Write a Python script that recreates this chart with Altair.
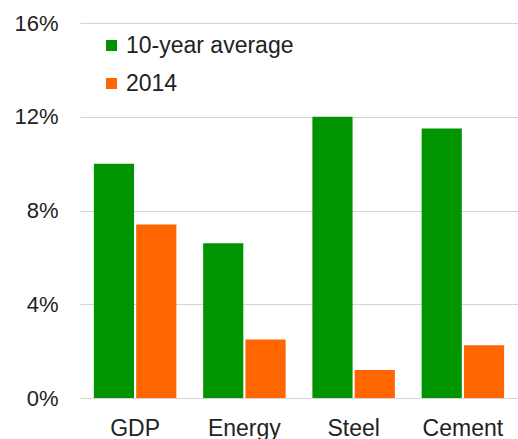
import altair as alt
import pandas as pd

categories = ["GDP", "Energy", "Steel", "Cement"]
avg_10yr = [10.0, 6.6, 12.0, 11.5]
y2014 = [7.4, 2.5, 1.2, 2.25]
series_names = ["10-year average", "2014"]
y_ticks = [0, 4, 8, 12, 16]

rows = []
for c, a, b in zip(categories, avg_10yr, y2014):
    rows.append({"category": c, "series": series_names[0], "value": a})
    rows.append({"category": c, "series": series_names[1], "value": b})
df = pd.DataFrame(rows)

FONT = "Liberation Sans"
TXT = "#222222"

chart = alt.Chart(df).mark_bar().encode(
    x=alt.X("category:N", sort=categories, title=None,
            scale=alt.Scale(paddingInner=0.245, paddingOuter=0.127),
            axis=alt.Axis(labelAngle=0, labelFontSize=23, labelColor=TXT,
                          labelFont=FONT, domain=False, ticks=False, labelPadding=19)),
    xOffset=alt.XOffset("series:N", sort=series_names,
                        scale=alt.Scale(paddingInner=0.05)),
    y=alt.Y("value:Q", title=None,
            scale=alt.Scale(domain=[0, 16], nice=False),
            axis=alt.Axis(values=y_ticks, labelExpr="datum.value + '%'",
                          labelFontSize=22, labelColor=TXT, labelFont=FONT,
                          domain=False, ticks=False, labelPadding=22,
                          gridColor="#d4d4d4", gridWidth=1)),
    color=alt.Color("series:N", sort=series_names,
                    scale=alt.Scale(domain=series_names, range=["#009400", "#ff6600"]),
                    legend=alt.Legend(title=None, orient="none", legendX=20, legendY=11,
                                      symbolType="square", symbolSize=121,
                                      symbolStrokeWidth=0, labelFontSize=23,
                                      labelFont=FONT, labelColor=TXT, labelLimit=400,
                                      labelOffset=3, rowPadding=14)),
).properties(
    width=438, height=375,
    autosize=alt.AutoSizeParams(type="none"),
    padding={"left": 80, "top": 23, "right": 0, "bottom": 41},
).configure_view(stroke=None)

chart.save("out.html", embed_options={"renderer": "svg", "actions": False})
